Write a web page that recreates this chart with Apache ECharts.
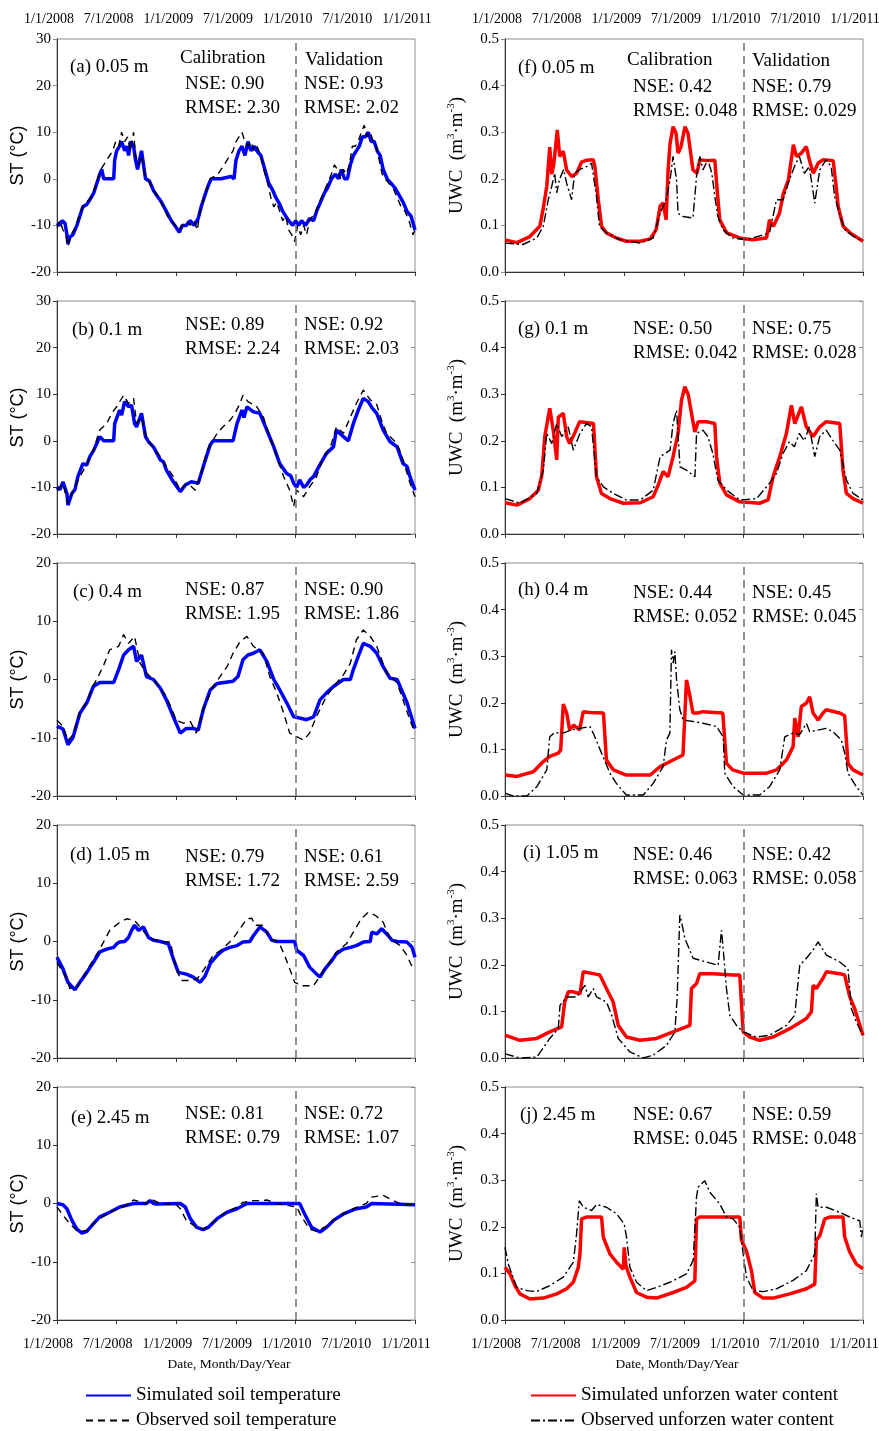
<!DOCTYPE html>
<html>

<head>
    <meta charset="UTF-8">
    <script src="https://cdn.jsdelivr.net/npm/echarts@6.0.0/dist/echarts.min.js"></script>
    <style>
    html, body {
        margin: 0;
        padding: 0;
        background: #fff;
    }
    #chart {
        width: 879px;
        height: 1431px;
    }
    </style>
</head>

<body>
    <div id="chart"></div>
    <script>
    // x = months counted from 1/1/2008, ticks every 6 months
    var tickLabels = ['1/1/2008', '7/1/2008', '1/1/2009', '7/1/2009', '1/1/2010', '7/1/2010', '1/1/2011'];

    // ---------------- soil temperature (°C) ----------------
    var simA = [[0,-9.5],[0.3,-10],[0.5,-9],[0.8,-9.5],[1.0,-12],[1.1,-14],[1.3,-12.5],[1.6,-12],[2.0,-10],[2.3,-8],[2.6,-6],[3.0,-5.5],[3.3,-4.5],[3.7,-3],[4.0,-1],[4.3,1],[4.5,2],[4.7,0],[5.0,0],[5.7,0],[5.8,4],[6.0,6],[6.3,7],[6.5,8],[6.8,6],[7.0,7],[7.2,5],[7.4,8],[7.7,7],[7.9,4],[8.1,2],[8.3,4],[8.5,6],[8.7,3],[8.9,0],[9.3,-0.5],[9.7,-2.5],[10.0,-3.5],[10.5,-5],[11.0,-7],[11.5,-9],[12.0,-10.5],[12.3,-11.5],[12.6,-10],[13.0,-10],[13.4,-9],[13.8,-10],[14.2,-8.5],[14.5,-6],[14.8,-4],[15.2,-1.5],[15.5,0],[16.5,0],[17.5,0.5],[17.8,0],[18.0,4],[18.3,6],[18.6,7],[18.9,5],[19.2,8],[19.5,6],[19.8,7],[20.1,6],[20.5,5],[20.9,2],[21.3,-1],[21.7,-2.5],[22.0,-4],[22.4,-5.5],[22.7,-7],[23.0,-8],[23.3,-9],[23.7,-10],[24.0,-9],[24.3,-10],[24.6,-9],[25.0,-10],[25.4,-8.5],[25.8,-9],[26.1,-7],[26.5,-5],[26.9,-3],[27.2,-2],[27.6,0],[28.0,1],[28.3,0],[28.6,2],[28.9,0],[29.2,0],[29.5,3],[29.8,5],[30.1,6],[30.4,7],[30.7,9],[31.0,9],[31.3,10],[31.6,8],[31.9,8],[32.2,6],[32.5,5],[32.8,2],[33.2,0],[33.6,-1],[34.0,-2],[34.4,-3.5],[34.8,-5],[35.2,-7],[35.6,-8],[36,-11]];
    var obsA = [[0,-10.5],[0.3,-9],[0.6,-11],[0.9,-12],[1.1,-14.5],[1.4,-12],[1.7,-11],[2.0,-9.5],[2.3,-7.5],[2.6,-6],[3.0,-5],[3.4,-4],[3.8,-2],[4.1,0],[4.4,2],[4.7,3],[5.0,4],[5.3,5],[5.6,6],[5.9,8],[6.2,7],[6.5,10],[6.8,8],[7.1,9],[7.4,6],[7.7,10],[7.9,5],[8.2,3],[8.5,5],[8.8,1],[9.1,0],[9.5,-1.5],[9.9,-3],[10.3,-4.5],[10.7,-6],[11.1,-8],[11.5,-9],[11.9,-10],[12.3,-11],[12.6,-10],[13.0,-9],[13.4,-10],[13.8,-9],[14.1,-11],[14.4,-7],[14.8,-4],[15.1,-2],[15.4,0],[15.8,0.5],[16.2,1],[16.5,2],[16.8,3],[17.1,4],[17.4,5],[17.7,6],[18.0,8],[18.3,9],[18.6,10],[18.9,8],[19.2,7],[19.5,8],[19.8,6],[20.1,7],[20.5,5],[20.8,2],[21.2,-1],[21.5,-4],[21.8,-6],[22.1,-5],[22.4,-7],[22.7,-9],[23.0,-8],[23.3,-11],[23.6,-12],[23.9,-13.5],[24.2,-10],[24.5,-12],[24.8,-10],[25.1,-12],[25.4,-9],[25.7,-8],[26.0,-7],[26.4,-5],[26.8,-3],[27.2,-1],[27.6,1],[27.9,3],[28.2,2],[28.5,0],[28.8,2],[29.1,1],[29.4,3],[29.7,7],[30.0,7],[30.3,8],[30.6,10],[30.9,11.5],[31.2,9],[31.5,10],[31.8,8],[32.1,7],[32.4,4],[32.7,1],[33.0,0],[33.4,-1],[33.8,-2],[34.2,-4],[34.6,-6],[35.0,-7],[35.4,-9],[35.8,-12],[36,-11]];

    var simB = [[0,-9.9],[0.3,-10.5],[0.6,-8.8],[1.0,-11.3],[1.1,-13.8],[1.5,-11.3],[1.8,-10.5],[2.1,-7.7],[2.6,-4.9],[3.0,-5.2],[3.3,-3.4],[3.7,-2],[4.0,-0.6],[4.3,0.9],[4.7,0],[5.7,0],[5.8,3.7],[6.3,6.6],[6.5,5.5],[6.8,8.4],[7.2,7.3],[7.5,7.6],[7.8,3.7],[8.0,3],[8.5,5.9],[8.9,0.9],[9.2,-0.2],[9.7,-1.3],[10.4,-4.1],[10.7,-4.5],[11.0,-6.3],[11.7,-8.8],[12.4,-10.9],[12.9,-9.5],[13.5,-8.8],[14.2,-9.1],[14.7,-5.6],[15.4,-0.9],[15.7,0],[17.7,0],[18.1,3.7],[18.6,6.6],[18.8,5],[19.1,7.3],[19.75,6.2],[20.4,5.9],[21.1,2.3],[21.8,-1.3],[22.4,-4.9],[23.1,-7],[23.5,-7.5],[23.8,-9.1],[24.1,-10],[24.4,-8.4],[24.8,-10],[25.1,-9.5],[25.5,-8.2],[25.8,-7.7],[26.5,-4.9],[27.1,-2.7],[27.8,-1.3],[28.1,2.3],[28.8,0.9],[29.3,0],[29.8,3.7],[30.3,6.6],[30.8,9.1],[31.3,8.4],[31.7,7],[32.15,5.9],[32.8,2.3],[33.5,-0.2],[34.2,-1.3],[34.8,-4.9],[35.2,-5.5],[35.5,-7.7],[36,-10.6]];
    var obsB = [[0,-10.6],[0.6,-9.2],[1.1,-13.4],[1.6,-10.9],[2.3,-7.7],[3.0,-5],[3.65,-2],[4.3,2.3],[5.0,3.7],[5.5,5.9],[6.0,7.3],[6.7,9.8],[7.2,8],[7.7,9.1],[8.0,3.7],[8.5,5.1],[9.0,0.5],[9.7,-1.5],[10.4,-3.4],[11.0,-5.5],[11.7,-7.7],[12.4,-10.6],[13.0,-9.2],[13.5,-9.8],[13.9,-10.6],[14.4,-7.7],[15.1,-2],[16.1,1.6],[16.7,3],[17.4,4.4],[17.9,5.9],[18.4,8],[18.7,9.8],[19.2,8.4],[20.1,7.3],[20.75,5.1],[21.4,0.9],[22.1,-3.4],[22.8,-7.7],[23.4,-10.6],[23.8,-14.1],[24.1,-10.6],[24.8,-12],[25.4,-9.9],[26.1,-7.7],[26.8,-3.4],[27.5,-1.3],[28.1,3],[28.8,1.6],[29.5,5.1],[30.1,8],[30.8,10.9],[31.5,8.8],[32.15,7.8],[32.7,4],[33.15,1.6],[34.2,-0.6],[34.8,-4.1],[35.5,-9.1],[36,-12]];

    var simC = [[0,-8],[0.6,-8.5],[1.1,-11.2],[1.6,-10],[2.3,-5.8],[3.0,-4],[3.65,-1.2],[4.3,-0.5],[5.7,-0.5],[6.2,1.7],[6.7,4.2],[7.2,5.1],[7.7,5.7],[8.0,3.1],[8.5,4.2],[9.0,0.5],[9.7,0],[10.4,-1.5],[11.0,-3.5],[11.7,-6.4],[12.4,-9.2],[13.0,-8.4],[13.7,-8.4],[14.2,-8.7],[14.7,-5.2],[15.4,-1.8],[16.1,-0.7],[17.7,-0.3],[18.2,0.5],[18.7,3.4],[19.2,4.2],[19.75,4.5],[20.4,5.1],[21.1,3.1],[21.8,0],[22.4,-1.8],[23.1,-4],[23.8,-6.4],[24.4,-6.6],[25.1,-6.9],[25.8,-6.4],[26.45,-3.5],[27.1,-2.3],[27.8,-1.2],[28.8,0],[29.5,0],[29.8,1.7],[30.3,4],[30.8,6.2],[31.5,5.7],[32.15,4.5],[32.8,2.2],[33.5,0.2],[34.2,0],[34.5,-1.2],[35.2,-4],[36,-8.4]];
    var obsC = [[0,-7],[0.6,-8],[1.1,-10.5],[1.6,-9.5],[2.3,-5.5],[3.0,-3.8],[3.65,-1],[4.0,0],[4.7,2.5],[5.3,5.1],[6.2,5.7],[6.7,7.7],[7.2,6.2],[7.8,7.4],[8.35,2.8],[9.0,1.1],[9.7,0],[11.0,-2.9],[12.0,-7],[12.7,-7.5],[13.4,-7.2],[14.0,-9.2],[14.7,-5.2],[15.7,-1.2],[16.4,0.5],[17.1,2.2],[17.7,4.5],[18.4,6.5],[19.1,7.4],[19.75,5.7],[20.75,4.5],[21.4,0.5],[22.1,-2.3],[22.8,-5.8],[23.4,-9.2],[24.1,-9.8],[24.8,-10.4],[25.4,-9.2],[26.1,-6.3],[27.1,-2.9],[27.8,-1.2],[28.8,0.8],[29.5,2.8],[30.1,6.8],[30.8,8.5],[31.5,7.4],[32.15,5.7],[33.15,1.1],[34.2,-0.6],[34.8,-3.5],[35.5,-7],[36,-9.2]];

    var simD = [[0,-2.7],[0.6,-4.7],[1.1,-7],[1.8,-8.3],[2.3,-7],[3.0,-5.3],[3.65,-3.6],[4.3,-1.8],[5.0,-1.3],[5.7,-1],[6.0,-0.4],[6.3,-0.1],[6.8,0],[7.2,0.7],[7.5,1.9],[7.8,2.8],[8.2,1.9],[8.7,2.5],[9.2,0.7],[9.7,0.2],[10.4,0],[11.2,-0.4],[11.7,-3],[12.2,-5.3],[13.0,-5.6],[13.7,-6.1],[14.4,-7],[14.9,-5.9],[15.4,-3.8],[16.1,-2.4],[16.7,-1.5],[17.4,-1],[18.1,-0.7],[18.7,-0.1],[19.4,0],[19.75,1],[20.4,2.5],[21.1,1.6],[21.6,0.2],[22.1,0],[23.9,0],[24.1,-1.5],[24.8,-2.4],[25.4,-4.4],[26.1,-5.6],[26.45,-6.1],[26.95,-4.7],[27.5,-3.6],[28.1,-2.1],[28.8,-1.3],[29.5,-1],[30.1,-0.7],[30.8,-0.1],[31.5,0],[31.65,1.6],[32.15,1.3],[32.65,2.2],[33.15,1.3],[33.7,0.2],[34.2,0],[35.2,-0.1],[35.7,-1],[36,-2.7]];
    var obsD = [[0,-3.6],[1.0,-6.4],[1.3,-8.1],[2.0,-7.9],[3.0,-5],[4.3,-1.3],[5.3,1.9],[6.3,3.3],[7.0,3.9],[7.8,3.6],[8.5,2.2],[9.2,0.7],[10.4,0],[11.4,-0.1],[12.0,-4.7],[12.5,-6.7],[13.4,-6.7],[14.1,-6.4],[14.7,-5],[15.7,-2.4],[16.7,-1.2],[17.7,0.5],[18.4,2.2],[19.1,3.9],[19.6,4],[19.9,2.8],[20.75,2.8],[21.4,0.5],[22.3,-0.1],[22.9,-2.4],[23.4,-4.7],[23.9,-7],[24.6,-7.6],[25.8,-7.6],[26.45,-5.9],[27.1,-4.3],[28.1,-1.8],[29.1,-0.4],[29.8,1.6],[30.6,3.9],[31.3,5],[32.0,4.5],[32.8,3.3],[33.5,0.5],[34.5,-0.7],[35.2,-2.4],[35.8,-4.7]];

    var simE = [[0,0],[0.6,-0.2],[1.0,-0.9],[1.5,-2.9],[2.0,-4.4],[2.5,-5.1],[3.0,-4.8],[3.65,-3.5],[4.3,-2.3],[5.3,-1.5],[6.3,-0.6],[7.7,0],[9.0,0],[9.35,0.5],[9.7,0],[10.0,-0.1],[12.4,0],[12.9,-0.6],[13.4,-2.6],[14.05,-4.1],[14.7,-4.5],[15.2,-4.1],[16.1,-2.6],[17.1,-1.5],[18.1,-0.9],[19.1,0],[24.4,0],[24.6,-0.1],[24.9,-1.8],[25.6,-4.1],[26.45,-4.9],[27.1,-4.1],[27.8,-2.9],[28.8,-1.8],[30.1,-0.9],[31.1,-0.6],[31.65,0],[36,-0.2]];
    var obsE = [[0,-0.6],[0.6,-2],[1.3,-3.5],[2.15,-4.9],[3.0,-4.6],[4.0,-2.9],[5.7,-1.2],[7.0,-0.3],[7.7,0.6],[9.0,0],[9.35,0.8],[10.4,0],[12.0,-0.2],[12.4,-0.9],[13.0,-2.9],[14.05,-4.1],[14.7,-4.4],[15.7,-3.2],[16.7,-1.8],[18.1,-0.6],[18.7,0.2],[19.75,0.5],[20.75,0.5],[21.1,0.6],[22.1,0],[24.1,-0.6],[24.6,-2.3],[25.4,-4.4],[26.1,-4.8],[27.1,-3.9],[28.5,-2],[29.8,-0.9],[31.1,0],[31.65,1.1],[32.8,1.4],[33.8,0.5],[34.8,-0.2],[36,-0.2]];

    // ---------------- unfrozen water content (m3/m3) ----------------
    var simF = [[0,0.069],[1.2,0.063],[2.5,0.076],[3.5,0.098],[3.85,0.137],[4.2,0.184],[4.5,0.268],[4.7,0.21],[4.9,0.23],[5.26,0.305],[5.5,0.248],[5.86,0.259],[6.2,0.219],[6.7,0.205],[7.2,0.212],[7.7,0.236],[8.2,0.24],[8.87,0.241],[9.04,0.226],[9.38,0.155],[9.71,0.098],[10.2,0.084],[11.2,0.073],[12.2,0.066],[13.6,0.066],[14.6,0.071],[15.2,0.091],[15.6,0.141],[15.9,0.148],[16.2,0.112],[16.4,0.219],[16.6,0.276],[16.9,0.312],[17.2,0.298],[17.4,0.255],[17.7,0.269],[18.1,0.312],[18.4,0.298],[18.9,0.219],[19.3,0.212],[19.6,0.241],[20.3,0.239],[21.1,0.24],[21.3,0.184],[21.6,0.112],[22.3,0.084],[23.6,0.073],[24.9,0.069],[26.3,0.073],[26.6,0.112],[27.0,0.098],[27.6,0.126],[28.0,0.169],[28.5,0.198],[29.0,0.273],[29.3,0.248],[29.8,0.255],[30.3,0.269],[30.6,0.241],[31.0,0.212],[31.5,0.234],[32.0,0.241],[33.0,0.239],[33.3,0.184],[33.5,0.141],[34.0,0.098],[34.7,0.084],[36,0.066]];
    var obsF = [[0,0.062],[1.8,0.059],[3.2,0.073],[3.85,0.098],[4.35,0.155],[4.7,0.184],[5.0,0.212],[5.2,0.17],[5.5,0.2],[5.9,0.22],[6.2,0.19],[6.7,0.155],[7.0,0.212],[7.5,0.22],[8.2,0.226],[8.7,0.234],[9.2,0.162],[9.5,0.098],[10.2,0.084],[11.5,0.07],[13.6,0.062],[14.9,0.073],[15.6,0.126],[16.2,0.155],[16.6,0.198],[16.9,0.248],[17.25,0.198],[17.4,0.126],[17.9,0.119],[18.9,0.116],[19.26,0.205],[19.6,0.248],[19.9,0.219],[20.4,0.241],[20.8,0.212],[21.1,0.162],[21.4,0.12],[21.9,0.091],[22.9,0.073],[24.3,0.069],[26.6,0.084],[27.3,0.155],[27.96,0.155],[28.6,0.198],[29.1,0.226],[29.6,0.248],[30.1,0.212],[30.6,0.226],[31.15,0.148],[31.65,0.219],[32.3,0.241],[32.8,0.226],[33.15,0.162],[33.7,0.12],[34.2,0.091],[35.0,0.077],[36,0.066]];

    var simG = [[0,0.067],[1.2,0.062],[2.5,0.076],[3.35,0.094],[3.7,0.126],[4.0,0.209],[4.5,0.27],[4.9,0.216],[5.2,0.159],[5.36,0.251],[5.86,0.259],[6.2,0.209],[6.5,0.194],[7.0,0.216],[7.5,0.241],[8.9,0.237],[9.2,0.123],[9.7,0.087],[10.55,0.076],[11.9,0.066],[13.6,0.067],[14.9,0.08],[15.4,0.105],[15.9,0.134],[16.4,0.123],[16.9,0.166],[17.4,0.216],[17.75,0.287],[18.08,0.316],[18.42,0.3],[18.75,0.259],[19.09,0.219],[19.42,0.241],[20.26,0.241],[21.1,0.237],[21.27,0.166],[21.6,0.109],[22.27,0.084],[23.6,0.069],[25.6,0.066],[26.46,0.073],[26.96,0.123],[27.63,0.166],[28.3,0.216],[28.8,0.276],[29.14,0.237],[29.8,0.273],[30.3,0.23],[30.98,0.209],[31.65,0.23],[32.3,0.241],[33.66,0.237],[33.99,0.137],[34.33,0.087],[35.0,0.076],[36,0.066]];
    var obsG = [[0,0.076],[1.5,0.066],[3.2,0.087],[3.85,0.137],[4.2,0.216],[4.7,0.194],[5.2,0.237],[5.7,0.209],[6.36,0.23],[6.87,0.18],[7.54,0.216],[8.2,0.237],[8.7,0.23],[9.2,0.123],[9.9,0.101],[10.9,0.087],[12.2,0.073],[13.6,0.073],[14.9,0.094],[15.6,0.166],[16.6,0.18],[16.9,0.237],[17.25,0.266],[17.6,0.144],[18.25,0.137],[19.1,0.123],[19.26,0.216],[19.9,0.223],[20.4,0.209],[20.9,0.173],[21.4,0.116],[22.3,0.094],[23.6,0.073],[25.3,0.076],[26.6,0.109],[27.3,0.13],[27.96,0.173],[28.6,0.198],[29.1,0.187],[29.6,0.216],[30.1,0.2],[30.6,0.23],[31.15,0.166],[31.65,0.209],[32.3,0.223],[33.0,0.2],[33.66,0.18],[34.33,0.116],[35.0,0.087],[36,0.073]];

    var simH = [[0,0.045],[1.2,0.042],[2.85,0.052],[3.85,0.074],[4.5,0.085],[5.36,0.092],[5.6,0.099],[5.86,0.197],[6.2,0.178],[6.5,0.142],[6.9,0.152],[7.5,0.142],[7.87,0.181],[8.54,0.179],[9.9,0.178],[10.2,0.077],[10.9,0.056],[12.2,0.045],[14.6,0.045],[15.6,0.063],[16.6,0.074],[17.9,0.088],[18.25,0.249],[18.6,0.214],[18.9,0.178],[19.4,0.178],[19.9,0.181],[21.9,0.178],[22.27,0.07],[22.9,0.056],[23.95,0.049],[26.3,0.049],[27.3,0.056],[28.3,0.077],[28.97,0.106],[29.14,0.167],[29.47,0.127],[29.8,0.192],[30.3,0.199],[30.64,0.213],[30.98,0.178],[31.48,0.163],[31.98,0.178],[32.3,0.185],[33.66,0.178],[34.16,0.172],[34.49,0.07],[35.0,0.056],[36,0.045]];
    var obsH = [[0,0.006],[0.8,0],[2.2,0],[3.2,0.02],[4.2,0.056],[4.5,0.127],[5.0,0.136],[5.86,0.135],[6.7,0.142],[7.54,0.145],[8.54,0.149],[8.87,0.135],[9.71,0.092],[10.55,0.049],[11.2,0.027],[12.2,0.002],[13.9,0.002],[14.9,0.027],[15.9,0.063],[16.24,0.12],[16.58,0.135],[16.74,0.314],[16.91,0.285],[17.08,0.31],[17.25,0.25],[17.58,0.185],[17.92,0.163],[18.92,0.16],[19.93,0.156],[21.27,0.149],[21.94,0.127],[22.1,0.049],[22.94,0.02],[23.95,0.002],[25.6,0.002],[26.6,0.02],[27.63,0.056],[28.13,0.127],[28.97,0.135],[29.64,0.132],[30.31,0.156],[30.64,0.138],[32.3,0.145],[32.99,0.138],[33.82,0.12],[34.16,0.092],[34.49,0.049],[35.33,0.02],[36,0.002]];

    var simI = [[0,0.049],[1.5,0.038],[3.2,0.042],[4.5,0.056],[5.7,0.067],[6.0,0.12],[6.36,0.142],[6.87,0.142],[7.54,0.138],[7.87,0.185],[8.87,0.181],[9.54,0.178],[10.2,0.149],[10.88,0.12],[11.39,0.07],[12.22,0.045],[13.56,0.038],[15.24,0.042],[16.91,0.056],[18.59,0.07],[18.75,0.149],[19.26,0.16],[19.59,0.181],[20.93,0.181],[22.94,0.178],[23.61,0.178],[23.95,0.056],[24.61,0.045],[25.62,0.038],[26.96,0.045],[28.63,0.063],[30.31,0.085],[30.81,0.099],[30.98,0.156],[31.31,0.149],[31.98,0.171],[32.32,0.185],[33.66,0.181],[34.16,0.178],[34.66,0.132],[35.16,0.106],[36,0.049]];
    var obsI = [[0,0.009],[1.5,0],[3.2,0.002],[4.5,0.042],[5.36,0.063],[5.53,0.113],[6.2,0.131],[7.2,0.131],[8.04,0.156],[8.37,0.131],[8.87,0.149],[9.21,0.131],[10.21,0.12],[10.72,0.092],[11.39,0.042],[12.56,0.013],[13.9,0],[14.9,0.006],[16.24,0.027],[17.08,0.056],[17.31,0.128],[17.58,0.307],[17.82,0.285],[18.08,0.257],[18.92,0.214],[20.26,0.206],[21.43,0.199],[21.77,0.274],[21.94,0.235],[22.27,0.149],[22.61,0.092],[23.28,0.07],[23.95,0.056],[25.28,0.045],[26.62,0.049],[28.3,0.07],[29.14,0.092],[29.64,0.199],[30.31,0.214],[30.98,0.232],[31.48,0.249],[32.32,0.221],[33.66,0.206],[34.49,0.192],[34.83,0.106],[35.33,0.077],[36,0.049]];

    var simJ = [[0,0.113],[0.5,0.099],[1.0,0.074],[1.5,0.056],[2.5,0.045],[3.85,0.047],[5.2,0.056],[6.2,0.067],[6.87,0.081],[7.37,0.113],[7.54,0.142],[7.7,0.217],[8.2,0.221],[9.71,0.221],[9.88,0.178],[10.55,0.142],[11.22,0.124],[11.89,0.109],[11.99,0.156],[12.16,0.117],[12.56,0.092],[13.23,0.059],[14.23,0.049],[15.24,0.047],[16.91,0.059],[18.25,0.07],[19.09,0.084],[19.26,0.217],[19.59,0.221],[23.61,0.221],[23.78,0.171],[24.28,0.148],[24.78,0.106],[25.12,0.059],[25.95,0.047],[26.96,0.047],[28.63,0.056],[30.31,0.067],[31.15,0.077],[31.31,0.171],[31.65,0.181],[32.15,0.217],[32.65,0.221],[33.99,0.221],[34.16,0.178],[34.66,0.146],[35.33,0.12],[36,0.11]];
    var obsJ = [[0,0.156],[0.33,0.12],[1.17,0.07],[2.18,0.063],[3.18,0.061],[4.52,0.074],[5.86,0.092],[6.87,0.124],[7.2,0.185],[7.47,0.256],[7.87,0.242],[8.71,0.235],[9.21,0.248],[10.21,0.242],[11.22,0.228],[11.99,0.206],[12.22,0.178],[12.56,0.113],[13.23,0.081],[14.23,0.063],[15.24,0.07],[16.58,0.081],[18.25,0.099],[18.92,0.128],[19.26,0.264],[19.42,0.285],[20.09,0.299],[20.6,0.274],[21.6,0.249],[22.27,0.221],[22.94,0.217],[23.61,0.199],[23.95,0.142],[24.28,0.092],[24.95,0.063],[25.95,0.061],[27.29,0.067],[28.97,0.085],[30.31,0.106],[31.15,0.142],[31.31,0.271],[31.48,0.242],[32.32,0.242],[33.66,0.231],[34.66,0.221],[35.67,0.213],[35.84,0.178],[36,0.199]];

    // panel tags and fit statistics
    var stTags = ['(a) 0.05 m', '(b) 0.1 m', '(c) 0.4 m', '(d) 1.05 m', '(e) 2.45 m'];
    var stCal = [['0.90', '2.30'], ['0.89', '2.24'], ['0.87', '1.95'], ['0.79', '1.72'], ['0.81', '0.79']];
    var stVal = [['0.93', '2.02'], ['0.92', '2.03'], ['0.90', '1.86'], ['0.61', '2.59'], ['0.72', '1.07']];
    var stSim = [simA, simB, simC, simD, simE];
    var stObs = [obsA, obsB, obsC, obsD, obsE];
    var stMax = [30, 30, 20, 20, 20];

    var wTags = ['(f) 0.05 m', '(g) 0.1 m', '(h) 0.4 m', '(i) 1.05 m', '(j) 2.45 m'];
    var wCal = [['0.42', '0.048'], ['0.50', '0.042'], ['0.44', '0.052'], ['0.46', '0.063'], ['0.67', '0.045']];
    var wVal = [['0.79', '0.029'], ['0.75', '0.028'], ['0.45', '0.045'], ['0.42', '0.058'], ['0.59', '0.048']];
    var wSim = [simF, simG, simH, simI, simJ];
    var wObs = [obsF, obsG, obsH, obsI, obsJ];

    // ---------------- layout ----------------
    var SERIF = '"Liberation Serif", "Times New Roman", serif';
    var SANS = '"Liberation Sans", Arial, sans-serif';
    var rowTop = [39, 301, 563, 825, 1087];
    var colLeft = [57, 505];
    var plotW = 358, plotH = 233;
    var tagOff = [[[13, 28], [15, 29], [16, 29], [13, 30], [14, 31]], [[13, 29], [13, 28], [13, 27], [18, 28], [15, 28]]];
    var statTop = [[45, 24, 27, 32, 27], [48, 28, 30, 30, 28]];

    var grids = [], xAxes = [], yAxes = [], series = [], graphics = [];

    function addText(x, y, txt) {
        graphics.push({
            type: 'text', x: x, y: y, silent: true,
            style: { text: txt, font: '19px ' + SERIF, fill: '#000', align: 'left', verticalAlign: 'middle' }
        });
    }

    function dateLabel(v) {
        return tickLabels[Math.round(v / 6)];
    }

    for (var r = 0; r < 5; r++) {
        for (var c = 0; c < 2; c++) {
            var k = r * 2 + c;
            var isST = c === 0;
            var bottom = r === 4;
            grids.push({
                left: colLeft[c], top: rowTop[r], width: plotW, height: plotH,
                outerBoundsMode: 'none', containLabel: false,
                show: true, borderColor: '#8c8c8c', borderWidth: 1, backgroundColor: 'transparent'
            });
            xAxes.push({
                gridIndex: k, type: 'value', min: 0, max: 36, interval: 6, position: 'bottom',
                axisLine: { onZero: false, lineStyle: { color: '#333', width: 1 } },
                axisTick: { length: 4, lineStyle: { color: '#333' } },
                axisLabel: {
                    show: bottom, margin: 17, color: '#000', fontFamily: SERIF, fontSize: 14,
                    showMinLabel: true, showMaxLabel: true, hideOverlap: false,
                    padding: [0, 18, 0, 0],
                    formatter: dateLabel
                },
                splitLine: { show: false },
                name: bottom ? 'Date, Month/Day/Year' : '',
                nameLocation: 'middle', nameGap: 37,
                nameTextStyle: { fontFamily: SERIF, fontSize: 13.5, color: '#000', padding: [0, 14, 0, 0] }
            });
            yAxes.push({
                gridIndex: k, type: 'value', position: 'left',
                min: isST ? -20 : 0, max: isST ? stMax[r] : 0.5, interval: isST ? 10 : 0.1,
                axisLine: { show: true, lineStyle: { color: '#333', width: 1 } },
                axisTick: { show: true, length: 4, lineStyle: { color: '#333' } },
                axisLabel: {
                    margin: 6, color: '#000', fontFamily: SERIF, fontSize: 15,
                    formatter: isST ? null : function(v) { return v.toFixed(1); }
                },
                splitLine: { show: false },
                name: isST ? 'ST (°C)' : '{a|UWC  (m}{s|3}{a|·m}{s|-3}{a|)}',
                nameLocation: 'middle', nameGap: isST ? 30 : 37,
                nameTextStyle: isST ? { fontFamily: SANS, fontSize: 18, color: '#000' } : {
                    rich: {
                        a: { fontFamily: SERIF, fontSize: 19, color: '#000', lineHeight: 22 },
                        s: { fontFamily: SERIF, fontSize: 11, color: '#000', lineHeight: 22, verticalAlign: 'top', padding: [0, 0, 9, 0] }
                    }
                }
            });
            yAxes.push({
                gridIndex: k, type: 'value', position: 'right',
                min: isST ? -20 : 0, max: isST ? stMax[r] : 0.5, interval: isST ? 10 : 0.1,
                axisLine: { show: false },
                axisTick: { show: true, inside: true, length: 4, lineStyle: { color: '#8c8c8c' } },
                axisLabel: { show: false },
                splitLine: { show: false }
            });

            var simName = isST ? 'Simulated soil temperature' : 'Simulated unforzen water content';
            var obsName = isST ? 'Observed soil temperature' : 'Observed unforzen water content';
            series.push({
                type: 'line', name: simName, xAxisIndex: k, yAxisIndex: 2 * k,
                data: isST ? stSim[r] : wSim[r], symbol: 'none', z: 2,
                lineStyle: { color: isST ? '#0000ff' : '#ff0000', width: 3.5 },
                itemStyle: { color: isST ? '#0000ff' : '#ff0000' },
                markLine: {
                    silent: true, symbol: ['none', 'none'], label: { show: false },
                    lineStyle: { color: '#6e6e6e', type: [8, 5], width: 1.5 },
                    data: [{ xAxis: 24 }]
                }
            });
            series.push({
                type: 'line', name: obsName, xAxisIndex: k, yAxisIndex: 2 * k,
                data: isST ? stObs[r] : wObs[r], symbol: 'none', z: 3,
                lineStyle: { color: '#000', width: 1.4, type: isST ? [7, 5] : [9, 3, 2, 3] },
                itemStyle: { color: '#000' }
            });

            // panel texts
            var gx = colLeft[c], gy = rowTop[r];
            var cal = isST ? stCal[r] : wCal[r];
            var val = isST ? stVal[r] : wVal[r];
            var off = tagOff[c][r];
            var st = statTop[c][r];
            addText(gx + off[0], gy + off[1], isST ? stTags[r] : wTags[r]);
            if (r === 0) {
                addText(gx + (isST ? 123 : 122), gy + (isST ? 19 : 21), 'Calibration');
                addText(gx + (isST ? 248 : 247), gy + (isST ? 21 : 22), 'Validation');
            }
            addText(gx + 128, gy + st, 'NSE: ' + cal[0]);
            addText(gx + 128, gy + st + 24, 'RMSE: ' + cal[1]);
            addText(gx + 247, gy + st, 'NSE: ' + val[0]);
            addText(gx + 247, gy + st + 24, 'RMSE: ' + val[1]);
        }
    }

    // date labels along the top of the first row
    for (var t = 0; t < 2; t++) {
        xAxes.push({
            gridIndex: t, type: 'value', min: 0, max: 36, interval: 6, position: 'top',
            axisLine: { show: false }, axisTick: { show: false }, splitLine: { show: false },
            axisLabel: {
                margin: 13, color: '#000', fontFamily: SERIF, fontSize: 14,
                showMinLabel: true, showMaxLabel: true, hideOverlap: false,
                padding: [0, 16, 0, 0],
                formatter: dateLabel
            }
        });
    }

    // two rows of 19px items must fit in the 45px left under the plots
    var legendText = { fontFamily: SERIF, fontSize: 19, color: '#000', lineHeight: 19 };
    var legendBase = {
        orient: 'vertical', top: 1386, padding: 0, itemWidth: 45, itemHeight: 12, itemGap: 6,
        selectedMode: false, textStyle: legendText,
        itemStyle: { opacity: 0 }
    };
    var option = {
        backgroundColor: '#fff',
        animation: false,
        grid: grids,
        xAxis: xAxes,
        yAxis: yAxes,
        series: series,
        graphic: graphics,
        legend: [
            Object.assign({ data: ['Simulated soil temperature', 'Observed soil temperature'], left: 85 }, legendBase),
            Object.assign({ data: ['Simulated unforzen water content', 'Observed unforzen water content'], left: 530 }, legendBase)
        ]
    };

    var myChart = echarts.init(document.getElementById('chart'));
    myChart.setOption(option);
    </script>
</body>

</html>
